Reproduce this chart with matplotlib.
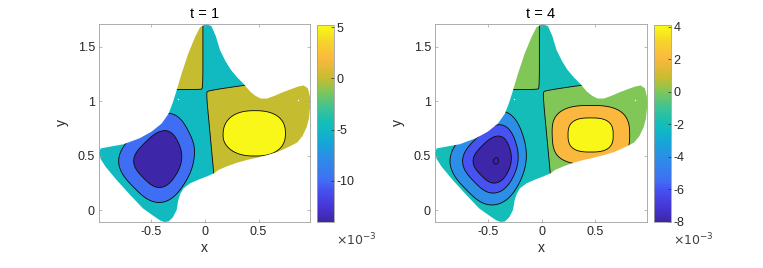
import numpy as np
import matplotlib
matplotlib.use("Agg")
import matplotlib.pyplot as plt
from matplotlib.colors import LinearSegmentedColormap, Normalize
from matplotlib.patches import Polygon
from matplotlib.cm import ScalarMappable

plt.rcParams['font.family'] = ['Liberation Sans', 'DejaVu Sans']
plt.rcParams['contour.negative_linestyle'] = 'solid'

# domain outline
bnd_x = [0.01, 0.06, 0.10, 0.14, 0.19, 0.24, 0.30, 0.36, 0.42, 0.47, 0.52, 0.58,
         0.65, 0.72, 0.80, 0.87, 0.92, 0.96, 0.98, 0.98, 0.97, 0.95, 0.91, 0.86,
         0.77, 0.68, 0.58, 0.48, 0.39, 0.30, 0.20, 0.13, 0.08, 0.02, -0.05, -0.14,
         -0.20, -0.23, -0.25, -0.265, -0.30, -0.34, -0.38, -0.42, -0.48, -0.58, -0.70,
         -0.825, -0.93, -0.975, -0.99, -0.975, -0.90, -0.76, -0.61, -0.50, -0.405,
         -0.34, -0.30, -0.265, -0.22, -0.156, -0.093, -0.047]
bnd_y = [1.71, 1.69, 1.60, 1.47, 1.37, 1.29, 1.22, 1.16, 1.09, 1.05, 1.025, 1.025,
         1.05, 1.08, 1.11, 1.135, 1.145, 1.12, 1.04, 0.94, 0.84, 0.765, 0.68, 0.62,
         0.575, 0.535, 0.505, 0.48, 0.46, 0.435, 0.40, 0.37, 0.336, 0.31, 0.284, 0.245,
         0.20, 0.15, 0.09, 0.0, -0.067, -0.105, -0.11, -0.095, -0.055, 0.015, 0.14,
         0.275, 0.40, 0.47, 0.52, 0.566, 0.58, 0.605, 0.66, 0.72, 0.795,
         0.887, 0.99, 1.10, 1.25, 1.44, 1.59, 1.68]
hole_x = [-0.255, 0.87]
hole_y = [1.02, 1.015]

# nodal lines of the field
nod_v_y = [0.30, 1.09, 1.12, 1.80]
nod_v_x = [0.085, 0.01, -0.02, -0.02]
nod_h_x = [-1.0, -0.02, 0.01, 0.37, 1.0]
nod_h_y = [1.107, 1.107, 1.095, 1.147, 1.26]

times = [1, 4]
zmin = [-14.0, -8.02]
zmax = [5.2, 4.1]
levels = [[-10, -5, 0, 5], [-8, -6, -4, -2, 0, 2, 4]]
cb_ticks = [[-10, -5, 0, 5], [-8, -6, -4, -2, 0, 2, 4]]

# negative lobe: centre, reach along / across the diagonal band, cut on the right
neg_cx = [-0.42, -0.42]
neg_cy = [0.45, 0.45]
neg_sn = [0.33, 0.31]
neg_sp = [0.42, 0.35]
neg_tn = [0.32, 0.27]
neg_tp = [0.33, 0.31]
neg_xr = [0.36, 0.25]
neg_q = [2.54, 2.4]
neg_m = 3.0
# positive lobe
pos_cx = [0.465, 0.456]
pos_cy = [0.705, 0.69]
pos_sx = [0.48, 0.368]
pos_sy = [0.35, 0.275]
pos_q = [6.0, 6.3]
pos_m = [2.4, 2.8]
base = 0.6
w_node = 0.03

# parula-like colormap
par_pos = [0.0, 0.08, 0.165, 0.21, 0.33, 0.41, 0.48, 0.52, 0.59, 0.66, 0.73, 0.83, 0.92, 1.0]
par_col = ['#3e26a8', '#4637d7', '#4653f0', '#3f6ff5', '#2c8ee6', '#14a8d6', '#10bcbe',
           '#1cbfb0', '#45c38e', '#7dc75a', '#c6bc30', '#fbb83f', '#f5d52a', '#f9fb15']
parula = LinearSegmentedColormap.from_list('parula', list(zip(par_pos, par_col)))


def field(X, Y, k):
    u = X - np.interp(Y, nod_v_y, nod_v_x)
    v = Y - np.interp(X, nod_h_x, nod_h_y)
    sgn = -np.tanh(u / w_node) * np.tanh(v / w_node)
    dx = X - neg_cx[k]
    dy = Y - neg_cy[k]
    s = (dx + dy) / np.sqrt(2)
    t = (dy - dx) / np.sqrt(2)
    ss = np.where(s < 0, neg_sn[k], neg_sp[k])
    ts = np.where(t < 0, neg_tn[k], neg_tp[k])
    m = neg_m
    rn = (np.abs(s / ss)**m + np.abs(t / ts)**m + (np.maximum(dx, 0) / neg_xr[k])**m)**(1 / m)
    mp = pos_m[k]
    rp = (np.abs((X - pos_cx[k]) / pos_sx[k])**mp + np.abs((Y - pos_cy[k]) / pos_sy[k])**mp)**(1 / mp)
    mag = base + (-zmin[k] - base) * np.exp(-rn**neg_q[k]) + (zmax[k] - base) * np.exp(-rp**pos_q[k])
    dip = 0.08 * np.exp(-((X - 0.0)**2 + (Y - 1.10)**2) / 0.1**2)
    return sgn * mag - dip


xg = np.linspace(-1.0, 1.0, 700)
yg = np.linspace(-0.15, 1.75, 700)
X, Y = np.meshgrid(xg, yg)

W, H = 763, 268
fig = plt.figure(figsize=(W / 100, H / 100), dpi=100)
ax_px = [(99, 310), (435, 647)]
cb_px = [(317, 334), (654, 671)]
top, bot = 24, 222

gray = '#a0a0a0'
txt = '#262626'

for k in range(2):
    ax = fig.add_axes([ax_px[k][0] / W, 1 - bot / H, (ax_px[k][1] - ax_px[k][0]) / W, (bot - top) / H])
    Z = field(X, Y, k)
    norm = Normalize(zmin[k], zmax[k])
    lv = levels[k]
    bounds = [Z.min() - 1] + lv + [Z.max() + 1]
    cols = [parula(norm(zmin[k]))] + [parula(norm(l)) for l in lv]
    cf = ax.contourf(X, Y, Z, levels=bounds, colors=cols, antialiased=True)
    cl = ax.contour(X, Y, Z, levels=lv, colors='k', linewidths=0.6, linestyles='solid')
    poly = Polygon(np.column_stack([bnd_x, bnd_y]), closed=True, transform=ax.transData)
    cf.set_clip_path(poly)
    cl.set_clip_path(poly)
    ax.scatter(hole_x, hole_y, s=1.0, c='white', zorder=3, linewidths=0)
    ax.set_xlim(-0.99, 0.98)
    ax.set_ylim(-0.11, 1.71)
    ax.set_xticks([-0.5, 0, 0.5])
    ax.set_xticklabels(['-0.5', '0', '0.5'])
    ax.set_yticks([0, 0.5, 1, 1.5])
    ax.set_yticklabels(['0', '0.5', '1', '1.5'])
    ax.tick_params(direction='in', top=True, right=True, length=2.5, width=0.5,
                   color=gray, labelcolor=txt, labelsize=9, pad=3)
    for sp in ax.spines.values():
        sp.set_color(gray)
        sp.set_linewidth(0.6)
    ax.set_title('t = %d' % times[k], fontsize=10.5, color='#000000', pad=4)
    ax.set_xlabel('x', fontsize=10, color=txt, labelpad=2)
    ax.set_ylabel('y', fontsize=10, color=txt, labelpad=6)

    cax = fig.add_axes([cb_px[k][0] / W, 1 - bot / H, (cb_px[k][1] - cb_px[k][0]) / W, (bot - top - 1) / H])
    sm = ScalarMappable(norm=norm, cmap=parula)
    cb = fig.colorbar(sm, cax=cax, ticks=cb_ticks[k])
    cb.ax.set_yticklabels([str(t) for t in cb_ticks[k]])
    cb.ax.tick_params(direction='in', length=2.5, width=0.5, color=txt, labelcolor=txt,
                      labelsize=9, pad=2)
    cb.outline.set_edgecolor(gray)
    cb.outline.set_linewidth(0.6)
    fig.text(cb_px[k][1] / W + 0.002, 1 - 240 / H, r'$\times10^{-3}$', fontsize=9,
             color='#404040', ha='left', va='center')

fig.savefig('out.png', dpi=100)
